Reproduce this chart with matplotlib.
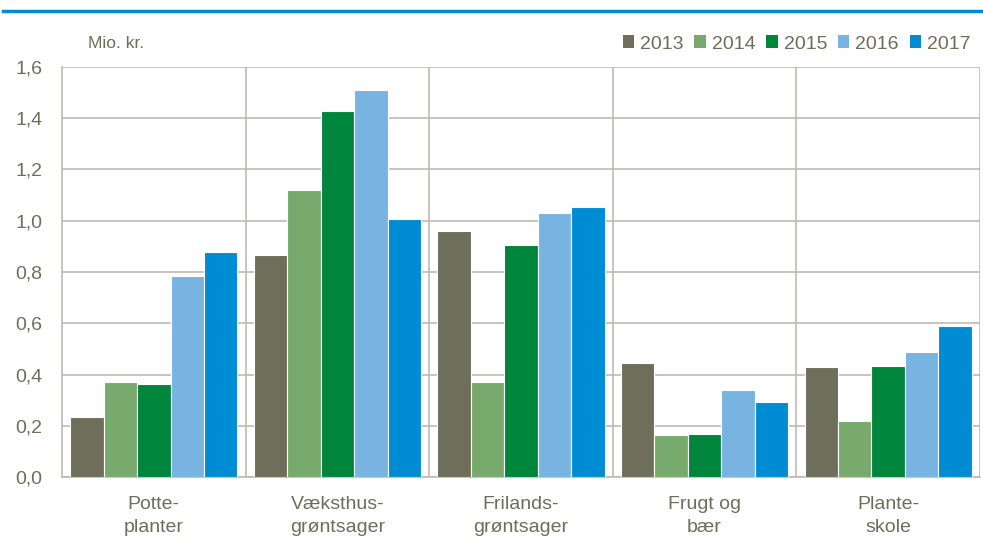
import numpy as np
import matplotlib.pyplot as plt
from matplotlib.patches import Patch

# data (Mio. kr.)
categories = ['Potte-\nplanter', 'Væksthus-\ngrøntsager', 'Frilands-\ngrøntsager', 'Frugt og\nbær', 'Plante-\nskole']
years = ['2013', '2014', '2015', '2016', '2017']
v2013 = [0.235, 0.866, 0.961, 0.446, 0.428]
v2014 = [0.370, 1.119, 0.372, 0.165, 0.220]
v2015 = [0.362, 1.430, 0.907, 0.169, 0.434]
v2016 = [0.786, 1.510, 1.031, 0.341, 0.489]
v2017 = [0.877, 1.007, 1.052, 0.294, 0.590]
series = [v2013, v2014, v2015, v2016, v2017]
colors = ['#6e6e5a', '#78aa6e', '#00853c', '#78b4e1', '#008cd2']

txt = '#6e6e5a'
gridc = '#bdbbb0'
plt.rcParams['font.family'] = ['Liberation Sans Narrow', 'Liberation Sans', 'DejaVu Sans']

fig = plt.figure(figsize=(9.83, 5.42), dpi=100)
ax = fig.add_axes([62/983, 65/542, 918/983, 410/542])

x = np.arange(len(categories))
w = 0.182
for i, vals in enumerate(series):
    ax.bar(x + (i - 2) * w, vals, width=w, color=colors[i], edgecolor='white',
           linewidth=0.8, zorder=3)

ax.set_xlim(-0.5, len(categories) - 0.5)
ax.set_ylim(0, 1.6)
ticks = np.arange(0, 1.61, 0.2)
ax.set_yticks(ticks)
ax.set_yticklabels([f'{t:.1f}'.replace('.', ',') for t in ticks])
ax.set_xticks(x)
ax.set_xticklabels(categories, linespacing=1.45)
ax.yaxis.grid(True, color=gridc, linewidth=1.2, zorder=0)
for b in np.arange(0.5, len(categories), 1.0):
    ax.axvline(b, color=gridc, linewidth=1.2, zorder=0)

for s in ['top', 'right']:
    ax.spines[s].set_visible(False)
for s in ['left', 'bottom']:
    ax.spines[s].set_color(gridc)
    ax.spines[s].set_linewidth(1.2)
ax.tick_params(axis='both', length=0, colors=txt, labelsize=14)
ax.tick_params(axis='y', pad=14)
ax.tick_params(axis='x', pad=14)

fig.text(88/983, 1 - 44/542, 'Mio. kr.', color=txt, fontsize=12.5, va='center')

handles = [Patch(facecolor=c, edgecolor='none') for c in colors]
leg = fig.legend(handles, years, loc='center right', bbox_to_anchor=(988/983, 1 - 44/542),
                 ncol=5, frameon=False, fontsize=14, handlelength=0.6, handleheight=0.6,
                 handletextpad=0.3, columnspacing=0.55, labelcolor=txt)

# blue rule at top
fig.add_artist(plt.Line2D([3/983, 1], [1 - 11/542, 1 - 11/542], color='#008cd2', linewidth=2.5))

fig.savefig('out.png', dpi=100)
